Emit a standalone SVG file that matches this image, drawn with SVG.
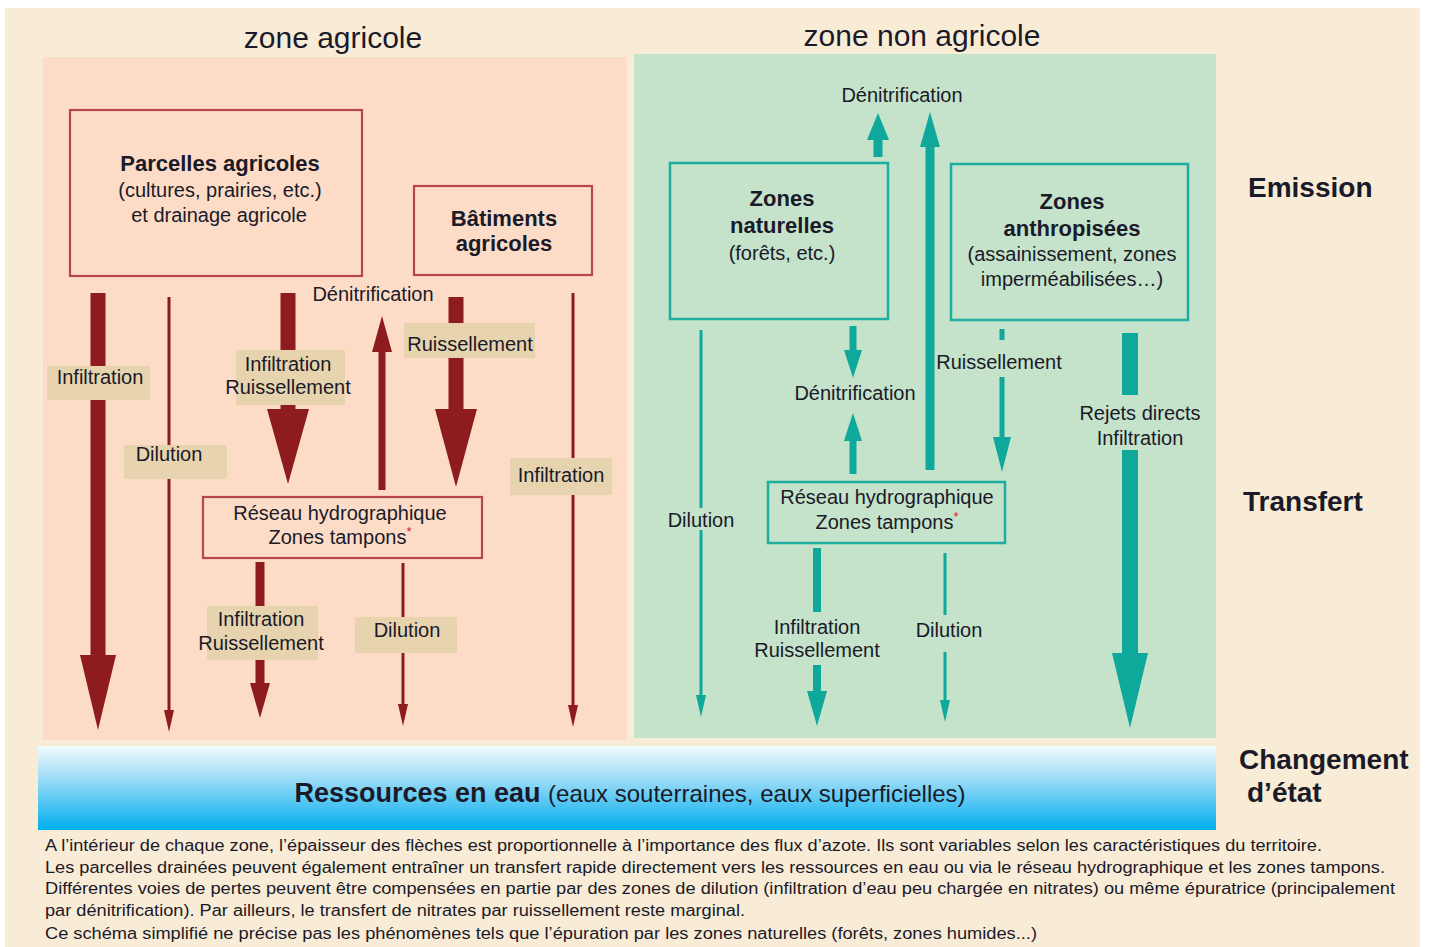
<svg xmlns="http://www.w3.org/2000/svg" width="1431" height="947" viewBox="0 0 1431 947">
<defs>
<linearGradient id="water" x1="0" y1="0" x2="0" y2="1">
<stop offset="0" stop-color="#F2FBFE"/>
<stop offset="0.4" stop-color="#9ADBF6"/>
<stop offset="1" stop-color="#00AEEF"/>
</linearGradient>
<style>
text{font-family:"Liberation Sans",Arial,sans-serif;fill:#1a1a28}
.title{font-size:30px;text-anchor:middle}
.head{font-size:28px;font-weight:bold}
.bt{font-size:22px;font-weight:bold;text-anchor:middle}
.st{font-size:20px;text-anchor:middle}
.lb{font-size:20px;text-anchor:middle}
.note{font-size:16px}
.rbox{fill:none;stroke:#B5474B;stroke-width:2.2}
.gbox{fill:none;stroke:#1DAE9F;stroke-width:2.5}
.tag{fill:#E7D4AF}
.red{fill:#8E1B1E}
.teal{fill:#0EA99B}
.ast{fill:#E0202A;font-size:13px}
</style>
</defs>
<rect width="1431" height="947" fill="#ffffff"/>
<rect x="5" y="8" width="1415" height="939" fill="#F9ECD7"/>
<rect id="zone-agricole" x="43" y="57" width="584" height="683" fill="#FDDCC7"/>
<rect id="zone-non-agricole" x="634" y="54" width="582" height="684" fill="#C5E2CB"/>

<text class="title" x="333" y="48">zone agricole</text>
<text class="title" x="922" y="46">zone non agricole</text>

<g id="connectors">
<!-- left zone -->
<polygon class="red" points="90.5,293 105.5,293 105.5,655 116,655 98,730 80,655 90.5,655"/>
<polygon class="red" points="167.5,297 170.5,297 170.5,710 174,710 169,732 164,710 167.5,710"/>
<polygon class="red" points="280.5,293 295.5,293 295.5,409 309,409 288,484 267,409 280.5,409"/>
<polygon class="red" points="378.5,490 385.5,490 385.5,352 392,352 382,316 372,352 378.5,352"/>
<polygon class="red" points="448.5,297 463.5,297 463.5,409 477,409 456,487 435,409 448.5,409"/>
<polygon class="red" points="571.5,293 574.5,293 574.5,705 578,705 573,727 568,705 571.5,705"/>
<polygon class="red" points="255.5,562 264.5,562 264.5,683 270,683 260,718 250,683 255.5,683"/>
<polygon class="red" points="401.5,563 404.5,563 404.5,704 408,704 403,726 398,704 401.5,704"/>
<!-- right zone -->
<polygon class="teal" points="873.5,157 882.5,157 882.5,140 889,140 878,113 867,140 873.5,140"/>
<polygon class="teal" points="925.5,470 934.5,470 934.5,147 940,147 930,112 920,147 925.5,147"/>
<polygon class="teal" points="849.5,326 856.5,326 856.5,350 862,350 853,378 844,350 849.5,350"/>
<polygon class="teal" points="849.5,474 856.5,474 856.5,441 862,441 853,413 844,441 849.5,441"/>
<rect class="teal" x="699.5" y="330" width="3" height="178"/>
<polygon class="teal" points="699.5,530 702.5,530 702.5,695 706,695 701,717 696,695 699.5,695"/>
<rect class="teal" x="999.5" y="329" width="5" height="11"/>
<polygon class="teal" points="999.5,377 1004.5,377 1004.5,437 1011,437 1002,472 993,437 999.5,437"/>
<rect class="teal" x="1122" y="333" width="16" height="62"/>
<polygon class="teal" points="1122,450 1138,450 1138,653 1148,653 1130,728 1112,653 1122,653"/>
<rect class="teal" x="813" y="548" width="8" height="64"/>
<polygon class="teal" points="813,665 821,665 821,691 827,691 817,726 807,691 813,691"/>
<rect class="teal" x="943.5" y="553" width="3" height="62"/>
<polygon class="teal" points="943.5,652 946.5,652 946.5,700 950,700 945,722 940,700 943.5,700"/>
</g>

<g id="parcelles-agricoles">
<rect class="rbox" x="70" y="110" width="292" height="166"/>
<text class="bt" x="220" y="171">Parcelles agricoles</text>
<text class="st" x="220" y="197">(cultures, prairies, etc.)</text>
<text class="st" x="219" y="222">et drainage agricole</text>
</g>
<g id="batiments-agricoles">
<rect class="rbox" x="414" y="186" width="178" height="89"/>
<text class="bt" x="504" y="226">Bâtiments</text>
<text class="bt" x="504" y="251">agricoles</text>
</g>
<g id="reseau-agricole">
<rect class="rbox" x="203" y="497" width="279" height="61"/>
<text class="st" x="340" y="520">Réseau hydrographique</text>
<text class="st" x="340" y="544">Zones tampons<tspan class="ast" dy="-8">*</tspan></text>
</g>

<g id="labels-agricole">
<g id="lbl-infiltration-1"><rect class="tag" x="47" y="366" width="103" height="34"/><text class="lb" x="100" y="384">Infiltration</text></g>
<g id="lbl-dilution-1"><rect class="tag" x="124" y="445" width="103" height="34"/><text class="lb" x="169" y="461">Dilution</text></g>
<g id="lbl-infruis-1"><rect class="tag" x="236" y="350" width="109" height="55"/><text class="lb" x="288" y="371">Infiltration</text><text class="lb" x="288" y="394">Ruissellement</text></g>
<g id="lbl-denit-1"><text class="lb" x="373" y="301">Dénitrification</text></g>
<g id="lbl-ruis-1"><rect class="tag" x="404" y="323" width="131" height="35"/><text class="lb" x="470" y="351">Ruissellement</text></g>
<g id="lbl-infiltration-2"><rect class="tag" x="510" y="458" width="102" height="37"/><text class="lb" x="561" y="482">Infiltration</text></g>
<g id="lbl-infruis-2"><rect class="tag" x="207" y="606" width="111" height="54"/><text class="lb" x="261" y="626">Infiltration</text><text class="lb" x="261" y="650">Ruissellement</text></g>
<g id="lbl-dilution-2"><rect class="tag" x="355" y="617" width="102" height="36"/><text class="lb" x="407" y="637">Dilution</text></g>
</g>

<g id="zones-naturelles">
<rect class="gbox" x="670" y="163" width="218" height="156"/>
<text class="bt" x="782" y="206">Zones</text>
<text class="bt" x="782" y="233">naturelles</text>
<text class="st" x="782" y="260">(forêts, etc.)</text>
</g>
<g id="zones-anthropisees">
<rect class="gbox" x="951" y="164" width="237" height="156"/>
<text class="bt" x="1072" y="209">Zones</text>
<text class="bt" x="1072" y="236">anthropisées</text>
<text class="st" x="1072" y="261">(assainissement, zones</text>
<text class="st" x="1072" y="286">imperméabilisées…)</text>
</g>
<g id="reseau-non-agricole">
<rect class="gbox" x="768" y="482" width="237" height="61"/>
<text class="st" x="887" y="504">Réseau hydrographique</text>
<text class="st" x="887" y="529">Zones tampons<tspan class="ast" dy="-8">*</tspan></text>
</g>

<g id="labels-non-agricole">
<text class="lb" x="902" y="102">Dénitrification</text>
<text class="lb" x="855" y="400">Dénitrification</text>
<text class="lb" x="999" y="369">Ruissellement</text>
<text class="lb" x="1140" y="420">Rejets directs</text>
<text class="lb" x="1140" y="445">Infiltration</text>
<text class="lb" x="701" y="527">Dilution</text>
<text class="lb" x="817" y="634">Infiltration</text>
<text class="lb" x="817" y="657">Ruissellement</text>
<text class="lb" x="949" y="637">Dilution</text>
</g>

<g id="etapes">
<text class="head" x="1248" y="197">Emission</text>
<text class="head" x="1243" y="511">Transfert</text>
<text class="head" x="1239" y="769">Changement</text>
<text class="head" x="1247" y="802">d’état</text>
</g>

<g id="ressources-en-eau">
<rect x="38" y="746" width="1178" height="84" fill="url(#water)"/>
<text x="630" y="802" text-anchor="middle" style="font-size:27px;font-weight:bold">Ressources en eau <tspan style="font-size:24px;font-weight:normal">(eaux souterraines, eaux superficielles)</tspan></text>
</g>

<g id="notes">
<text class="note" x="45" y="851" textLength="1277" lengthAdjust="spacingAndGlyphs">A l’intérieur de chaque zone, l’épaisseur des flèches est proportionnelle à l’importance des flux d’azote. Ils sont variables selon les caractéristiques du territoire.</text>
<text class="note" x="45" y="873" textLength="1340" lengthAdjust="spacingAndGlyphs">Les parcelles drainées peuvent également entraîner un transfert rapide directement vers les ressources en eau ou via le réseau hydrographique et les zones tampons.</text>
<text class="note" x="45" y="894" textLength="1350" lengthAdjust="spacingAndGlyphs">Différentes voies de pertes peuvent être compensées en partie par des zones de dilution (infiltration d’eau peu chargée en nitrates) ou même épuratrice (principalement</text>
<text class="note" x="45" y="916" textLength="700" lengthAdjust="spacingAndGlyphs">par dénitrification). Par ailleurs, le transfert de nitrates par ruissellement reste marginal.</text>
<text class="note" x="45" y="939" textLength="992" lengthAdjust="spacingAndGlyphs">Ce schéma simplifié ne précise pas les phénomènes tels que l’épuration par les zones naturelles (forêts, zones humides...)</text>
</g>
</svg>
